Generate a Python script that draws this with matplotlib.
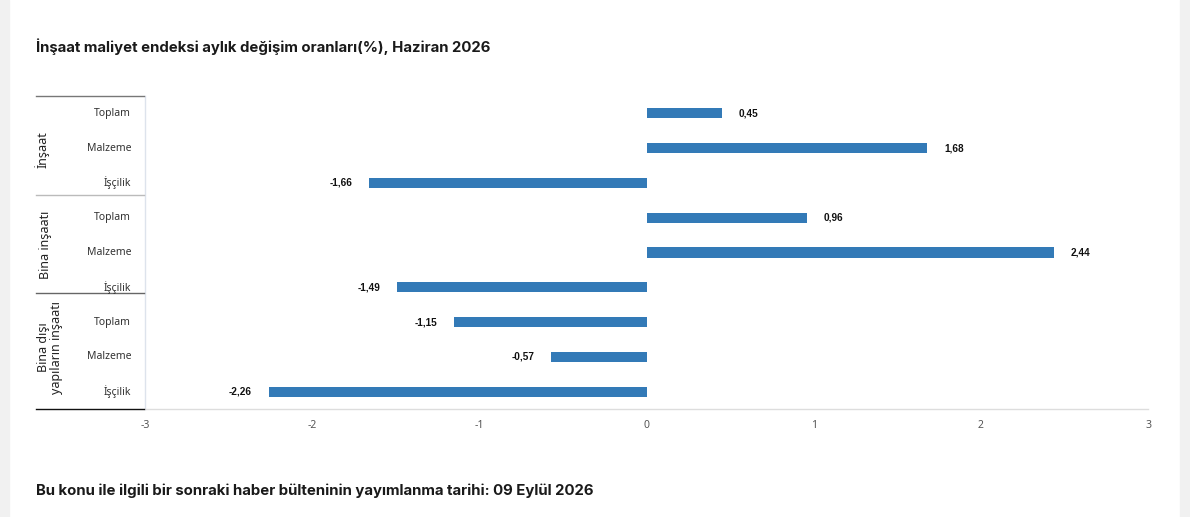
import matplotlib
matplotlib.use("Agg")
import matplotlib.pyplot as plt
from matplotlib.patches import Rectangle
from matplotlib.lines import Line2D

# data
groups = ["İnşaat", "Bina inşaatı", "Bina dışı\nyapıların inşaatı"]
items = ["Toplam", "Malzeme", "İşçilik"]
values_insaat = [0.45, 1.68, -1.66]
values_bina = [0.96, 2.44, -1.49]
values_bina_disi = [-1.15, -0.57, -2.26]
value_labels = ["0,45", "1,68", "-1,66", "0,96", "2,44", "-1,49", "-1,15", "-0,57", "-2,26"]
xticks = [-3, -2, -1, 0, 1, 2, 3]

title = "İnşaat maliyet endeksi aylık değişim oranları(%), Haziran 2026"
footer = "Bu konu ile ilgili bir sonraki haber bülteninin yayımlanma tarihi: 09 Eylül 2026"

values = values_insaat + values_bina + values_bina_disi
labels = items * 3
n = len(values)
rows = list(range(n))

W, H = 1190, 517
fig = plt.figure(figsize=(W / 100, H / 100), dpi=100)
fig.patch.set_facecolor("white")

# gray side strips of the page
fig.add_artist(Rectangle((0, 0), 9 / W, 1, transform=fig.transFigure, color="#f1f1f1", zorder=0))
fig.add_artist(Rectangle((1180 / W, 0), 10 / W, 1, transform=fig.transFigure, color="#f1f1f1", zorder=0))

left, right, top, bottom = 145, 1148, 96, 409
ax = fig.add_axes([left / W, 1 - bottom / H, (right - left) / W, (bottom - top) / H])
ax.barh(rows, values, height=0.29, color="#337ab7", zorder=3)
ax.set_xlim(-3, 3)
ax.set_ylim(n - 0.5, -0.5)
ax.set_yticks([])
ax.set_xticks(xticks)
ax.set_xticklabels([str(t) for t in xticks], fontsize=7.5, color="#555555", family="Noto Sans")
ax.tick_params(axis="x", length=0, pad=8)
for s in ["top", "right"]:
    ax.spines[s].set_visible(False)
ax.spines["bottom"].set_color("#dddddd")
ax.spines["left"].set_color("#dde3ec")
ax.spines["bottom"].set_linewidth(1)
ax.spines["left"].set_linewidth(1)

for r, v, t in zip(rows, values, value_labels):
    off = 12 if v >= 0 else -12
    ax.annotate(t, (v, r), xytext=(off, 0), textcoords="offset points",
                ha="left" if v >= 0 else "right", va="center",
                fontsize=7.2, fontweight="bold", family="Liberation Sans", color="#111111")

# category labels in the left table
def fy(data_y):
    # data y -> figure fraction
    return fig.transFigure.inverted().transform(ax.transData.transform((0, data_y)))[1]

for r, lab in zip(rows, labels):
    fig.text(131 / W, fy(r), lab, ha="right", va="center", fontsize=7.5,
             family="Noto Sans", color="#333333")

# table lines
tx0, tx1 = 36 / W, 144 / W
line_specs = [(-0.5, "#777777"), (2.35, "#bbbbbb"), (5.17, "#666666"), (n - 0.5, "#111111")]
for yv, c in line_specs:
    yy = fy(yv)
    fig.add_artist(Line2D([tx0, tx1], [yy, yy], transform=fig.transFigure, color=c, lw=1))

# group labels
group_centers = [(42, 150), (45, 245), (50, 347)]
for g, (gx, gy) in zip(groups, group_centers):
    fig.text(gx / W, 1 - gy / H, g, rotation=90, ha="center", va="center",
             fontsize=9, family="Noto Sans", color="#222222", linespacing=1.05,
             multialignment="center")

fig.text(36 / W, 1 - 47 / H, title, ha="left", va="center", fontsize=10.75,
         fontweight="bold", family="Inter", color="#1a1a1a")
fig.text(36 / W, 1 - 491 / H, footer, ha="left", va="center", fontsize=10.75,
         fontweight="bold", family="Inter", color="#1a1a1a")

fig.savefig("out.png", dpi=100)
